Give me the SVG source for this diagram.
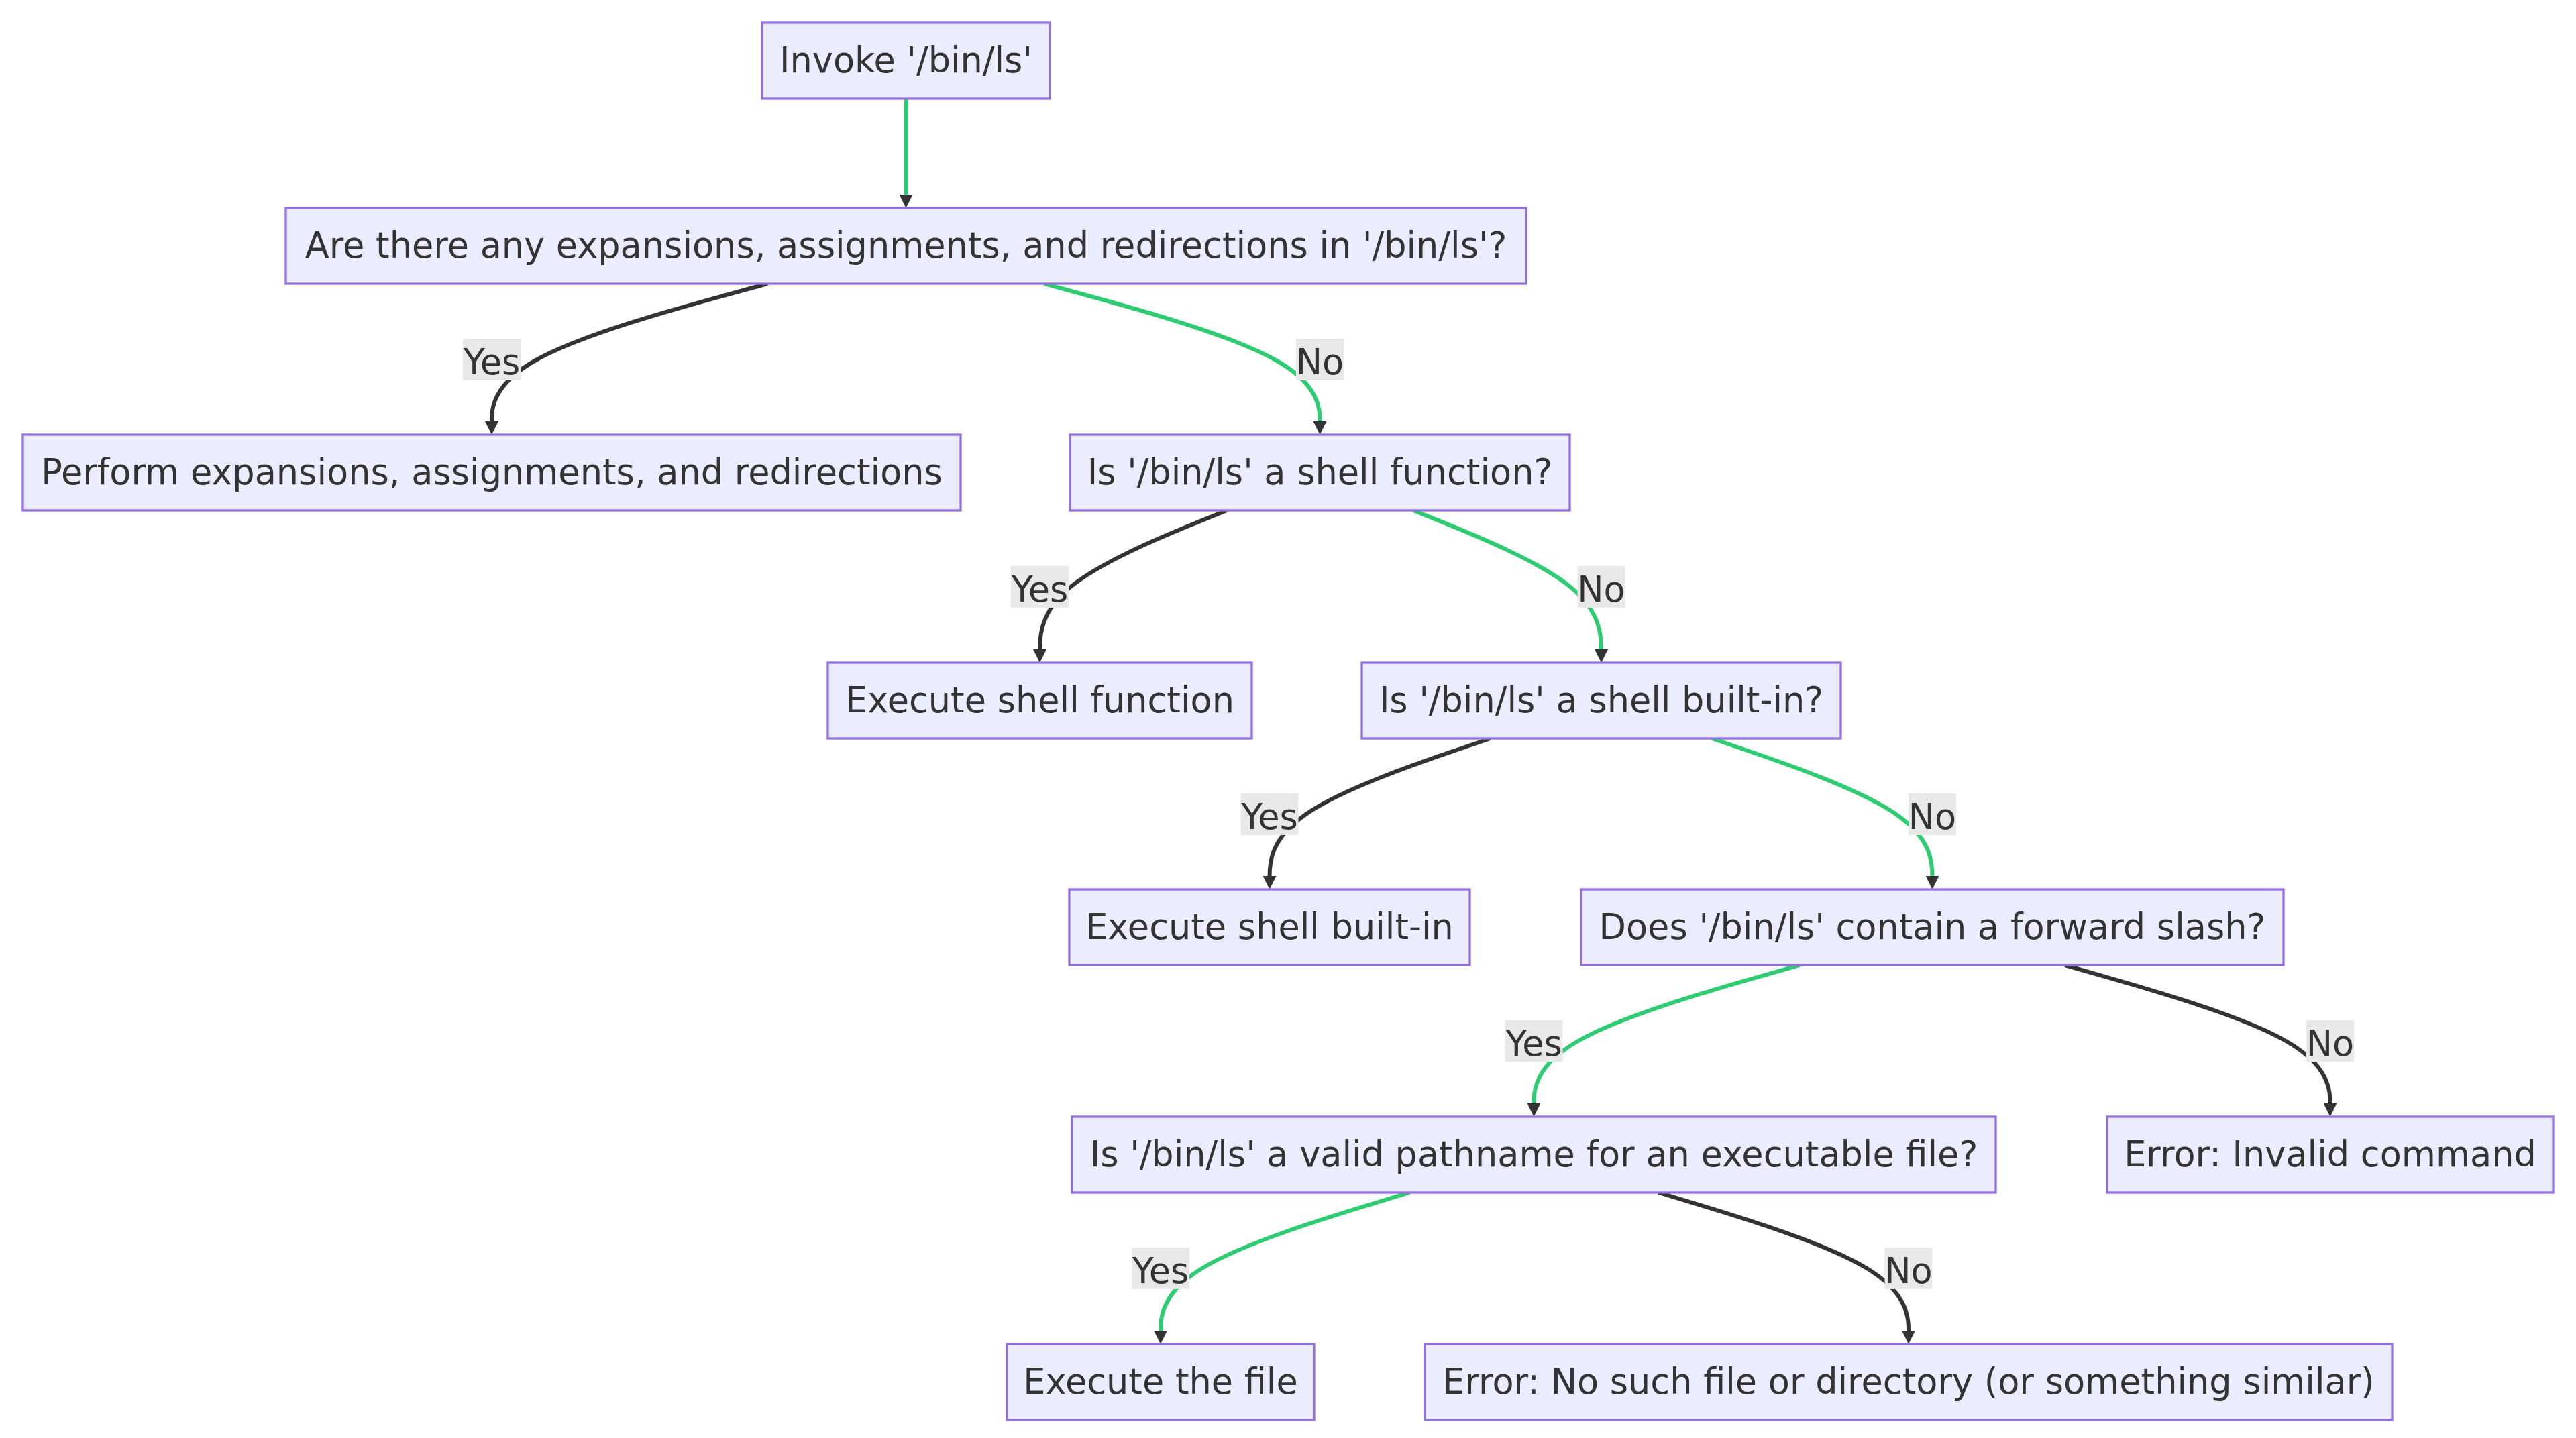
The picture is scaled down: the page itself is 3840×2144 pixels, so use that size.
<svg xmlns="http://www.w3.org/2000/svg" width="3840" height="2144" viewBox="0 0 3840 2144">
  <style>
    .node rect { fill: #ECECFF; stroke: #9370DB; stroke-width: 3.3; }
    text { font-family: "DejaVu Sans", Verdana, sans-serif; font-size: 52.5px; fill: #333333; text-anchor: middle; }
    .edge { fill: none; stroke-width: 6; marker-end: url(#arrow); }
    .dark { stroke: #333333; }
    .green { stroke: #2ECC71; }
    .label rect { fill: #E8E8E8; }
  </style>
  <defs>
    <marker id="arrow" markerUnits="userSpaceOnUse" markerWidth="20" markerHeight="20" viewBox="0 0 10 10" refX="6" refY="5" orient="auto">
      <path d="M0,0 L10,5 L0,10 z" fill="#333333"/>
    </marker>
  </defs>
  <rect width="3840" height="2144" fill="#FFFFFF"/>

  <!-- connectors (d3 basis curves through the label points) -->
  <g id="connectors">
    <path class="edge green" d="M1350.5,147 L1350.5,302"/>
    <path class="edge dark" d="M1144.1,423 L1075.6,441.75 C1007.1,460.5 870,498 801.5,535.5 C733,573 733,610.5 733,629.25 L733,640"/>
    <path class="edge green" d="M1556.8,423 L1625.25,441.75 C1693.7,460.5 1830.6,498 1899.05,535.5 C1967.5,573 1967.5,610.5 1967.5,629.25 L1967.5,640"/>
    <path class="edge dark" d="M1828.7,761 L1782.25,779.9 C1735.8,798.8 1642.9,836.7 1596.45,874.5 C1550,912.3 1550,950.2 1550,969.1 L1550,980"/>
    <path class="edge green" d="M2106.9,761 L2153.6,779.9 C2200.3,798.8 2293.6,836.7 2340.3,874.5 C2387,912.3 2387,950.2 2387,969.1 L2387,980"/>
    <path class="edge dark" d="M2221.7,1101 L2166.8,1119.75 C2112,1138.5 2002.2,1176 1947.4,1213.5 C1892.5,1251 1892.5,1288.5 1892.5,1307.25 L1892.5,1318"/>
    <path class="edge green" d="M2552,1101 L2606.75,1119.75 C2661.5,1138.5 2771,1176 2825.75,1213.5 C2880.5,1251 2880.5,1288.5 2880.5,1307.25 L2880.5,1318"/>
    <path class="edge green" d="M2682.5,1439 L2616.5,1457.8 C2550.5,1476.7 2418.5,1514.3 2352.5,1552 C2286.5,1589.7 2286.5,1627.3 2286.5,1646.2 L2286.5,1657"/>
    <path class="edge dark" d="M3078.2,1439 L3144.1,1457.8 C3210,1476.7 3341.7,1514.3 3407.6,1552 C3473.5,1589.7 3473.5,1627.3 3473.5,1646.2 L3473.5,1657"/>
    <path class="edge green" d="M2101,1778 L2039.2,1796.8 C1977.3,1815.7 1853.7,1853.3 1791.8,1891 C1730,1928.7 1730,1966.3 1730,1985.2 L1730,1996"/>
    <path class="edge dark" d="M2472.7,1778 L2534.75,1796.8 C2596.8,1815.7 2720.9,1853.3 2782.95,1891 C2845,1928.7 2845,1966.3 2845,1985.2 L2845,1996"/>
  </g>

  <!-- edge labels -->
  <g id="edge-labels">
    <g class="label"><rect x="690" y="505" width="86" height="62"/><text x="733" y="558">Yes</text></g>
    <g class="label"><rect x="1932" y="505" width="71" height="62"/><text x="1967.5" y="558">No</text></g>
    <g class="label"><rect x="1507" y="844" width="86" height="62"/><text x="1550" y="897">Yes</text></g>
    <g class="label"><rect x="2351.5" y="844" width="71" height="62"/><text x="2387" y="897">No</text></g>
    <g class="label"><rect x="1849.5" y="1183" width="86" height="62"/><text x="1892.5" y="1236">Yes</text></g>
    <g class="label"><rect x="2845" y="1183" width="71" height="62"/><text x="2880.5" y="1236">No</text></g>
    <g class="label"><rect x="2243.5" y="1521" width="86" height="62"/><text x="2286.5" y="1574">Yes</text></g>
    <g class="label"><rect x="3438" y="1521" width="71" height="62"/><text x="3473.5" y="1574">No</text></g>
    <g class="label"><rect x="1687" y="1860" width="86" height="62"/><text x="1730" y="1913">Yes</text></g>
    <g class="label"><rect x="2809.5" y="1860" width="71" height="62"/><text x="2845" y="1913">No</text></g>
  </g>

  <!-- nodes -->
  <g id="invoke" class="node"><rect x="1136" y="34" width="429" height="113"/><text x="1350.5" y="108">Invoke '/bin/ls'</text></g>
  <g id="check-expansions" class="node"><rect x="426" y="310" width="1849" height="113"/><text x="1350.5" y="384">Are there any expansions, assignments, and redirections in '/bin/ls'?</text></g>
  <g id="perform-expansions" class="node"><rect x="34" y="648" width="1398" height="113"/><text x="733" y="722">Perform expansions, assignments, and redirections</text></g>
  <g id="check-function" class="node"><rect x="1595" y="648" width="745" height="113"/><text x="1967.5" y="722">Is '/bin/ls' a shell function?</text></g>
  <g id="exec-function" class="node"><rect x="1234" y="988" width="632" height="113"/><text x="1550" y="1062">Execute shell function</text></g>
  <g id="check-builtin" class="node"><rect x="2030" y="988" width="714" height="113"/><text x="2387" y="1062">Is '/bin/ls' a shell built-in?</text></g>
  <g id="exec-builtin" class="node"><rect x="1594" y="1326" width="597" height="113"/><text x="1892.5" y="1400">Execute shell built-in</text></g>
  <g id="check-slash" class="node"><rect x="2357" y="1326" width="1047" height="113"/><text x="2880.5" y="1400">Does '/bin/ls' contain a forward slash?</text></g>
  <g id="check-path" class="node"><rect x="1598" y="1665" width="1377" height="113"/><text x="2286.5" y="1739">Is '/bin/ls' a valid pathname for an executable file?</text></g>
  <g id="invalid-command" class="node"><rect x="3141" y="1665" width="665" height="113"/><text x="3473.5" y="1739">Error: Invalid command</text></g>
  <g id="exec-file" class="node"><rect x="1501" y="2004" width="458" height="113"/><text x="1730" y="2078">Execute the file</text></g>
  <g id="no-such-file" class="node"><rect x="2124" y="2004" width="1442" height="113"/><text x="2845" y="2078">Error: No such file or directory (or something similar)</text></g>
</svg>
